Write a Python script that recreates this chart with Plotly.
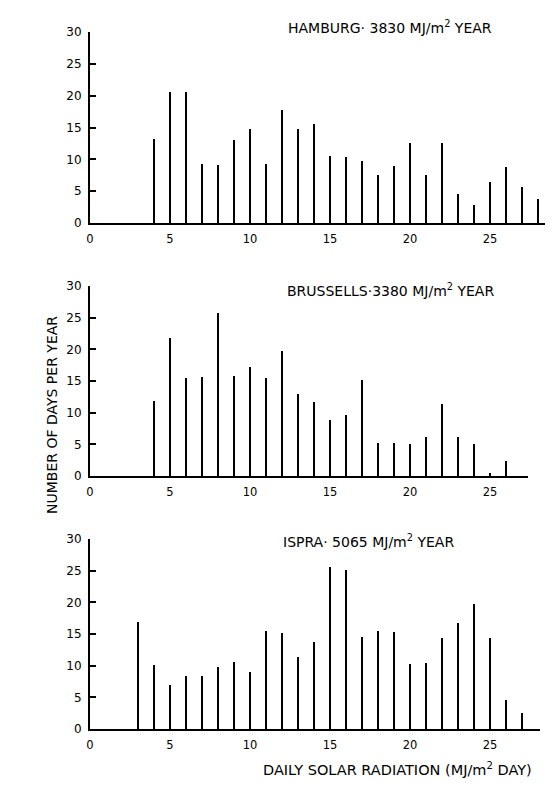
import plotly.graph_objects as go

# ---- data ----
hamburg_x = list(range(4, 29))
hamburg_days = [13.2, 20.6, 20.6, 9.2, 9.1, 13.0, 14.8, 9.3, 17.8, 14.7, 15.6, 10.5,
                10.3, 9.8, 7.5, 8.9, 12.6, 7.6, 12.6, 4.6, 2.8, 6.5, 8.8, 5.7, 3.7]

brussels_x = list(range(4, 27))
brussels_days = [11.8, 21.8, 15.5, 15.7, 25.8, 15.8, 17.2, 15.5, 19.7, 13.0, 11.7, 8.9,
                 9.6, 15.2, 5.2, 5.2, 5.1, 6.1, 11.4, 6.2, 5.1, 0.5, 2.4]

ispra_x = list(range(3, 28))
ispra_days = [16.9, 10.1, 6.9, 8.3, 8.4, 9.8, 10.6, 9.0, 15.5, 15.2, 11.4, 13.8, 25.6,
              25.1, 14.6, 15.4, 15.3, 10.2, 10.4, 14.3, 16.7, 19.8, 14.4, 4.6, 2.5]

titles = ["HAMBURG\u00b7 3830 MJ/m<sup>2</sup> YEAR",
          "BRUSSELLS\u00b73380 MJ/m<sup>2</sup> YEAR",
          "ISPRA\u00b7 5065 MJ/m<sup>2</sup> YEAR"]
x_tickvals = [0, 5, 10, 15, 20, 25]
y_tickvals = [0, 5, 10, 15, 20, 25, 30]
x_title = "DAILY SOLAR RADIATION (MJ/m<sup>2</sup> DAY)"
y_title = "NUMBER OF DAYS PER YEAR"

# ---- layout geometry ----
W, H = 553, 788
ML, MR, MT, MB = 82, 4, 24, 67
PW = W - ML - MR
PH = H - MT - MB
px_per_unit = 16.0

def ypaper(py):
    return (H - MB - py) / PH

def xpaper(px):
    return (px - ML) / PW

panels = [
    dict(x=hamburg_x, y=hamburg_days, top=24, bot=215, right=549, title=titles[0], tx=278, ty=19),
    dict(x=brussels_x, y=brussels_days, top=278, bot=468, right=520, title=titles[1], tx=277, ty=282),
    dict(x=ispra_x, y=ispra_days, top=531, bot=721, right=532, title=titles[2], tx=273, ty=533),
]

FONT = "DejaVu Sans"
fig = go.Figure()
layout = {}
annotations = []
for i, p in enumerate(panels, start=1):
    xa = "x" if i == 1 else f"x{i}"
    ya = "y" if i == 1 else f"y{i}"
    fig.add_trace(go.Bar(x=p["x"], y=p["y"], width=0.13, marker_color="black",
                         marker_line_width=0, xaxis=xa, yaxis=ya, showlegend=False))
    xr = (p["right"] - ML) / px_per_unit
    dom_r = (p["right"] - ML) / PW
    layout[f"xaxis{'' if i == 1 else i}"] = dict(
        domain=[0, dom_r], range=[0, xr], anchor=ya, showgrid=False, zeroline=False,
        showline=True, linecolor="black", linewidth=2, ticks="",
        ticklabelstandoff=4,
        tickvals=x_tickvals, tickfont=dict(family=FONT, size=11.5, color="black"),
    )
    layout[f"yaxis{'' if i == 1 else i}"] = dict(
        domain=[ypaper(p["bot"]), ypaper(p["top"])], range=[0, 30], anchor=xa,
        showgrid=False, zeroline=False, showline=True, linecolor="black", linewidth=2,
        ticks="inside", ticklen=6, tickwidth=2, tickcolor="black",
        ticklabelstandoff=4,
        tickvals=y_tickvals, tickfont=dict(family=FONT, size=12, color="black"),
    )
    annotations.append(dict(text=p["title"], xref="paper", yref="paper",
                            x=xpaper(p["tx"]), y=ypaper(p["ty"]), xanchor="left",
                            yanchor="middle", showarrow=False,
                            font=dict(family=FONT, size=14, color="black")))

annotations.append(dict(text=x_title, xref="paper", yref="paper",
                        x=xpaper(389), y=ypaper(761), xanchor="center", yanchor="middle",
                        showarrow=False, font=dict(family=FONT, size=14.5, color="black")))
annotations.append(dict(text=y_title, xref="paper", yref="paper",
                        x=xpaper(44), y=ypaper(407), xanchor="center", yanchor="middle",
                        textangle=-90, showarrow=False,
                        font=dict(family=FONT, size=14, color="black")))

fig.update_layout(width=W, height=H, margin=dict(l=ML, r=MR, t=MT, b=MB),
                  paper_bgcolor="white", plot_bgcolor="white", bargap=0,
                  annotations=annotations, **layout)
fig.write_html("out.html")
